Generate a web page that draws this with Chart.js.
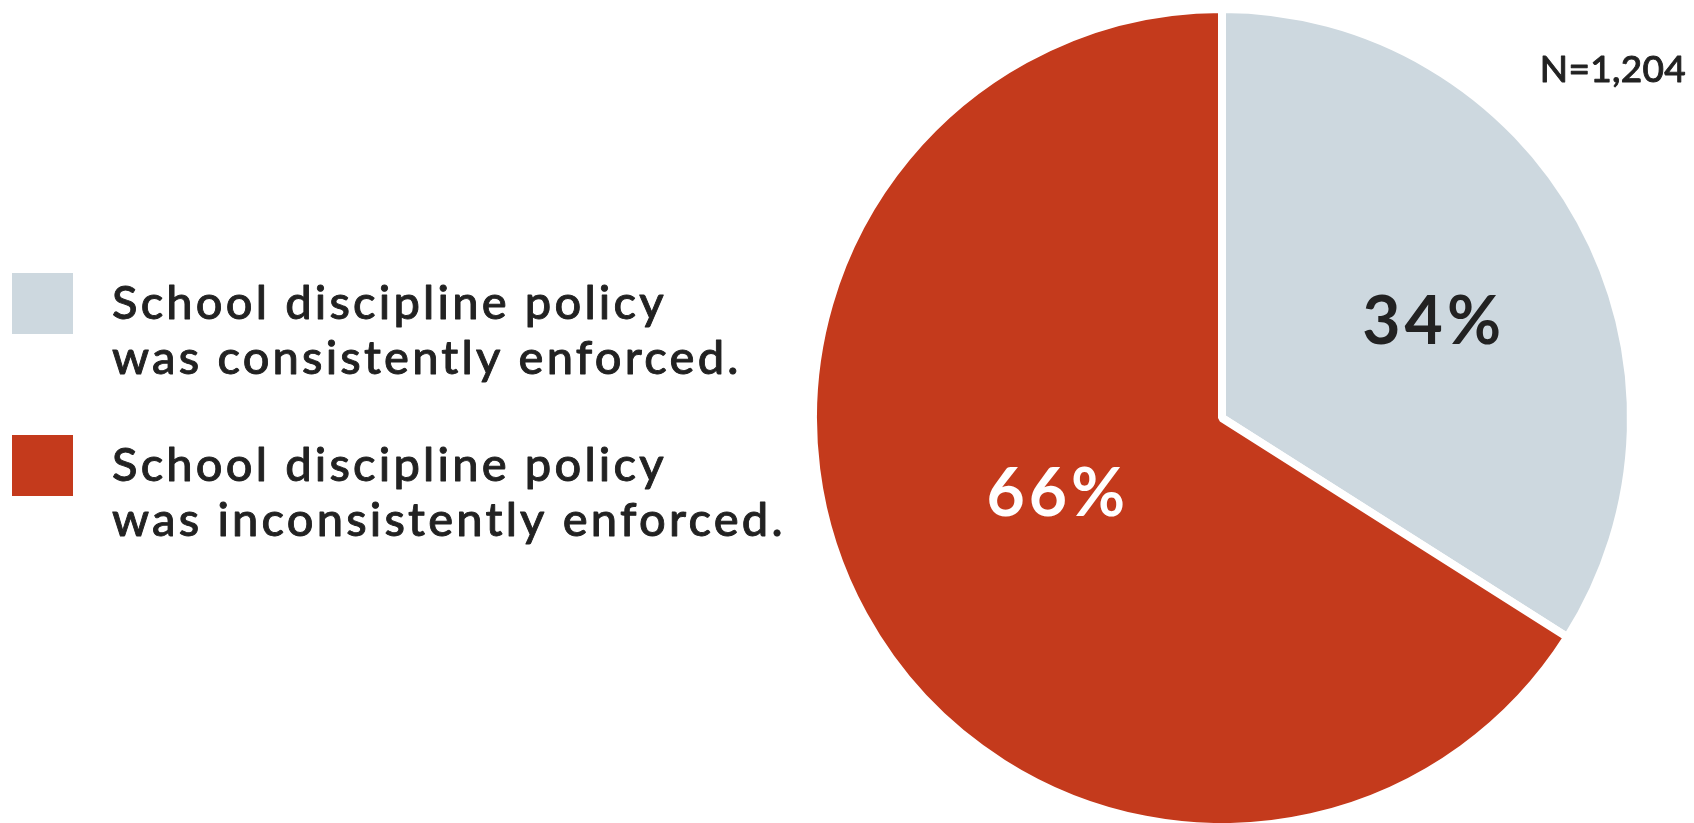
<!DOCTYPE html>
<html>
<head>
<meta charset="utf-8">
<script src="https://cdn.jsdelivr.net/npm/chart.js@4"></script>
<style>
  html, body { margin: 0; padding: 0; background: #fff; }
  #wrap { position: relative; width: 1694px; height: 823px; }
</style>
</head>
<body>
<div id="wrap"><canvas id="pieChart" width="1694" height="823"></canvas></div>
<script>
// data
const categories = [
    ["School discipline policy", "was consistently enforced."],
    ["School discipline policy", "was inconsistently enforced."]
];
const shares = [34, 66];
const sliceColors = ["#CDD8DF", "#C43A1C"];
const labelColors = ["#222222", "#FFFFFF"];
const sampleNote = "N=1,204";

// text a bit heavier than Lato regular (the original uses a medium weight)
function heavyText(ctx, text, x, y, color, extra) {
    ctx.fillStyle = color;
    ctx.strokeStyle = color;
    ctx.lineWidth = extra;
    ctx.lineJoin = "round";
    ctx.fillText(text, x, y);
    ctx.strokeText(text, x, y);
}

// legend boxes + text on the left, N in the corner, % inside slices
const annotations = {
    id: "annotations",
    afterDatasetsDraw(chart) {
        const ctx = chart.ctx;
        ctx.save();

        // legend
        const boxTops = [273, 435];
        categories.forEach((lines, i) => {
            ctx.fillStyle = sliceColors[i];
            ctx.fillRect(12, boxTops[i], 61, 61);
            ctx.font = "500 47px 'Lato Medium', Lato";
            ctx.letterSpacing = "3.2px";
            ctx.textAlign = "left";
            ctx.textBaseline = "alphabetic";
            lines.forEach((line, j) => {
                heavyText(ctx, line, 112, boxTops[i] + 46 + j * 55, "#222222", 0.9);
            });
        });

        // sample size
        ctx.font = "500 37px 'Lato Medium', Lato";
        ctx.letterSpacing = "0.3px";
        ctx.textAlign = "right";
        heavyText(ctx, sampleNote, 1686, 82, "#222222", 0.9);

        // percentages
        const meta = chart.getDatasetMeta(0);
        const factors = [0.57, 0.44];
        meta.data.forEach((arc, i) => {
            const p = arc.getProps(["x", "y", "startAngle", "endAngle", "outerRadius"], true);
            const mid = (p.startAngle + p.endAngle) / 2 + (i === 0 ? 0.07 : 0.08);
            const r = p.outerRadius * factors[i];
            const x = p.x + Math.cos(mid) * r;
            const y = p.y + Math.sin(mid) * r;
            ctx.font = "bold 66px Lato";
            ctx.letterSpacing = "4px";
            ctx.textAlign = "center";
            ctx.fillStyle = labelColors[i];
            ctx.fillText(shares[i] + "%", x, y + 24);
        });

        ctx.restore();
    }
};

const ctx = document.getElementById("pieChart").getContext("2d");
new Chart(ctx, {
    type: "pie",
    data: {
        labels: categories.map(c => c.join(" ")),
        datasets: [{
            data: shares,
            backgroundColor: sliceColors,
            borderColor: "#FFFFFF",
            borderWidth: 8,
            radius: 409
        }]
    },
    options: {
        responsive: false,
        animation: false,
        layout: { padding: { left: 750, top: 13, right: 0, bottom: 0 } },
        plugins: {
            legend: { display: false },
            tooltip: { enabled: false }
        }
    },
    plugins: [annotations]
});
</script>
</body>
</html>
